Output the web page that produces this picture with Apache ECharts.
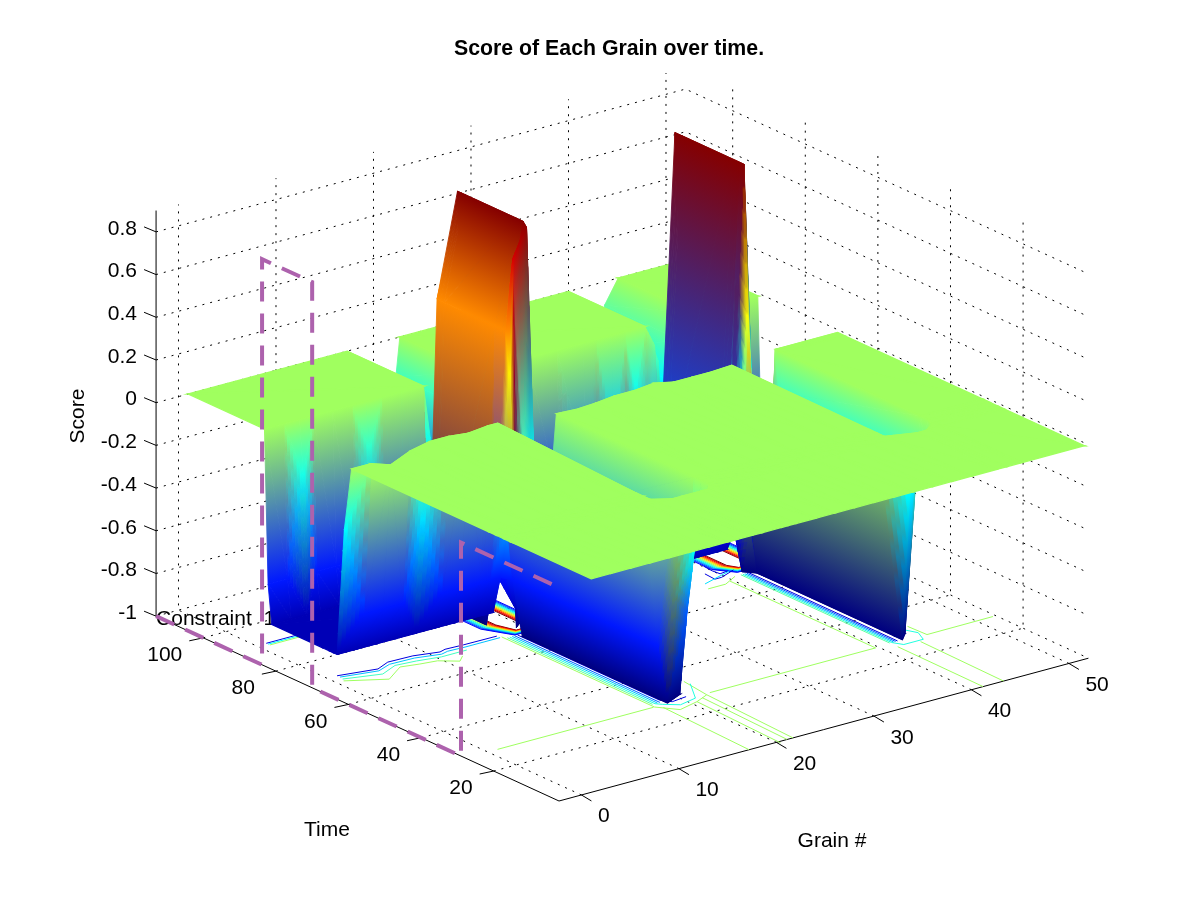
<!DOCTYPE html>
<html><head><meta charset="utf-8">
<style>html,body{margin:0;padding:0;background:#fff}#c{width:1201px;height:900px}</style>
<script src="https://cdn.jsdelivr.net/npm/echarts@6/dist/echarts.min.js"></script>
</head><body><div id="c"></div>
<script>
// ---- axis data
const grainTicks=[0,10,20,30,40,50];
const timeTicks=[20,40,60,80,100];
const scoreTicks=[-1,-0.8,-0.6,-0.4,-0.2,0,0.2,0.4,0.6,0.8];
const scoreLabels=['-1','-0.8','-0.6','-0.4','-0.2','0','0.2','0.4','0.6','0.8'];
const grainRange=[-2.3,52], timeRange=[2,113], scoreRange=[-1,0.9];
const colourRange=[-1,0.88];

// ---- surface height data, time bands from back to front
const backGrains=[1,17.3,18,19,21,21.5,22.3,22.7,40,41.4,42.3,43,43.7,45.1,51.6];
const backTimes=[92,113];
const backRow=[0,0,-.25,-1,-1,-.7,-.18,0,0,-.18,-1,-.3,-.11,0,0];

const wallGrains=[1,3,4.6,6,8,10,11.4,13,15,17.3,17.8,18.7,20.8,21.6,22.2,22.7,25,28,31,33.7,35,36.5,38,38.7,40,41,41.6,43.1,44,44.6,45.1,47,49,51.6];
const wallTimes=[90,91,92];
const wallRow90=[-.9,-.9,-.9,-.9,-.9,-.9,-.9,-.9,-.9,-.9,-1,.39,.87,-.2,-.9,-.9,-.9,-.9,-.9,-.9,-.9,-.9,-.9,-.9,-.9,-.9,-.62,.87,-.3,-.9,-.9,-.9,-.9,-.9];
const wallRow91=[-.72,-.72,-.25,-.72,-.72,-.72,-.2,-.72,-.72,-.72,-1,.39,.87,-.2,-.5,-.7,-.72,-.72,-.72,-.6,-.72,-.4,-.72,-.25,-.5,-.5,-.62,.87,-.3,-.6,-.72,-.72,-.72,-.72];
const wallRow92=[0,0,0,0,0,0,0,0,0,0,-1,.39,.87,-.2,-.3,0,0,0,0,0,0,0,0,0,0,-.1,-.62,.87,-.3,-.2,0,0,0,0];

const ridgeGrains=[1,17,17.8,18.7,20.8,21.6,22.2,23,40,41,41.6,43.1,44,44.6,51.6];
const ridgeTimes=[74,76,90];
const ridgeRow74=[-.9,-.9,-.74,.39,.87,-.2,-.9,-.9,-.9,-.9,-.62,.87,-.3,-.9,-.9];
const ridgeRow76=[-.9,-.9,-1,.39,.87,-.2,-.9,-.9,-.9,-.9,-.62,.87,-.3,-.9,-.9];
const ridgeRow90=[-.9,-.9,-1,.39,.87,-.2,-.9,-.9,-.9,-.9,-.62,.87,-.3,-.9,-.9];

const edgeGrains=[1,3,5,7,9,11,13,15,16,17,17.5,18.7,19.4,20.2,20.8,21.6,22.2,24,26,28,30,32,34,36,38,40,41,41.8,42.6,43.1,44,44.9,45.2,51.6];
const edgeTimes=[68,70,72,73,74];
const edgeRow68=[0,0,-.03,.01,.03,.03,.02,.03,.03,-.48,-.72,-1,-1,-1,-1,-.5,0,-.005,0,.01,.01,.02,0,0,0,.005,-.33,-.77,-1,-1,-1,-.18,0,0];
const edgeRow70=[-.3,-.72,-.72,-.72,-.35,-.72,-.72,-.72,-.72,-.72,-.72,-.9,-.9,-.9,-.9,-.72,-.72,-.72,-.72,-.72,-.72,-.72,-.72,-.72,-.72,-.72,-.8,-1,-.9,-.9,-.9,-.5,0,0];
const edgeRow72=[-.9,-.9,-.9,-.9,-.9,-.9,-.9,-.9,-.9,-.9,-.74,.2,-1,-.2,-.3,-.7,-.9,-.9,-.9,-.9,-.9,-.9,-.9,-.9,-.9,-.9,-.9,-.72,-.3,.17,-.6,-.9,-.9,-.9];
const edgeRow73=[-.9,-.9,-.9,-.9,-.9,-.9,-.9,-.9,-.9,-.9,-.74,.39,.72,.8,.85,-.3,-.9,-.9,-.9,-.9,-.9,-.9,-.9,-.9,-.9,-.9,-.9,-.62,.265,.87,-.3,-.9,-.9,-.9];
const edgeRow74=[-.9,-.9,-.9,-.9,-.9,-.9,-.9,-.9,-.9,-.9,-.74,.39,.55,.7,.87,-.2,-.9,-.9,-.9,-.9,-.9,-.9,-.9,-.9,-.9,-.9,-.9,-.62,.35,.87,-.3,-.9,-.9,-.9];

const frontGrains=[1,3,5,7,9,11,13,15,16,17.5,18.5,20.5,21.2,22,24,26,28,30,32,34,36,38,40,42.6,43.6,44.9,45.2,51.6];
const frontTimes=[2,24,26,28,30,68];
const frontRowFlat=[0,0,0,0,0,0,0,0,0,0,0,0,0,0,0,0,0,0,0,0,0,0,0,0,0,0,0,0];
const frontRow26=[0,0,0,0,0,0,0,0,0,-.36,-.5,-.3,-.1,0,0,0,0,0,0,0,0,0,0,-.3,-.1,0,0,0];
const frontRow28=[0,0,0,0,0,0,0,0,0,-.72,-1,-.6,-.2,0,0,0,0,0,0,0,0,0,0,-1,-.35,-.1,0,0];
const frontRow30=[0,0,0,0,0,0,0,0,0,-.72,-1,-1,-.45,0,0,0,0,0,0,0,0,0,0,-1,-1,-.18,0,0];
const frontRow68=[0,0,-.03,.01,.03,.03,.02,.03,.03,-.72,-1,-1,-.45,0,-.005,0,.01,.01,.02,0,0,0,.005,-1,-1,-.18,0,0];

// vertices whose colour is blended from their neighbours rather than taken from their own height
const surfaceBands=[
 {grains:backGrains,times:backTimes,rows:[backRow,backRow]},
 {grains:wallGrains,times:wallTimes,rows:[wallRow90,wallRow91,wallRow92]},
 {grains:ridgeGrains,times:ridgeTimes,rows:[ridgeRow74,ridgeRow76,ridgeRow90]},
 {grains:edgeGrains,times:edgeTimes,rows:[edgeRow68,edgeRow70,edgeRow72,edgeRow73,edgeRow74],
  blend:[{row:0,grains:[41,41.8],dir:'grain'},{row:3,grains:[42.6],dir:'grain'},{row:4,grains:[19.4,20.2,42.6],dir:'grain'}]},
 {grains:frontGrains,times:frontTimes,rows:[frontRowFlat,frontRowFlat,frontRow26,frontRow28,frontRow30,frontRow68],
  blend:[{row:2,grains:[17.5,18.5],dir:'time'}]}
];

// ---- constraint polyline (at the near grain limit)
const constraintTimes=[113,83.8,83.8,70,70,29,29,2];
const constraintScores=[-1,-1,.9,.9,-1,-1,0,0];

// ---- floor contour lines (grain/time pairs)
const green='#9FFF60';
const contourLines=[
 {color:green,grains:[1,17],times:[27.8,27.8]},
 {color:green,grains:[17.1,17.1,18.4,20.6,22.2,22.6],times:[69.9,27.8,24.2,25.5,27.1,34.5]},
 {color:green,grains:[22.7,39.7,39.7],times:[27.6,27.6,67.7]},
 {color:green,grains:[17.6,17.2],times:[26.7,2]},
 {color:green,grains:[20.6,20.2],times:[25.5,1.4]},
 {color:green,grains:[21.5,21.1],times:[26.5,2]},
 {color:green,grains:[22.2,21.7],times:[27.1,2]},
 {color:green,grains:[44.8,44.9,51.7],times:[32.5,27.4,27.5]},
 {color:green,grains:[41.3,41.2],times:[25.8,2]},
 {color:green,grains:[43.5,43.3],times:[25.4,2]},
 {color:'#60FFA0',grains:[17.35,17.35],times:[69,29]},
 {color:'#20FFE0',grains:[17.6,17.6,18,19.1,21,22.7],times:[69,29,28,26,27,33]},
 {color:'#00C0FF',grains:[17.85,17.85],times:[69,29]},
 {color:'#0060FF',grains:[18.1,18.1],times:[69,29]},
 {color:'#0000E0',grains:[18.4,18.4,19,20.6],times:[69,30,28,28.5]},
 {color:'#60FFA0',grains:[41.3,41.3],times:[69,28]},
 {color:'#20FFE0',grains:[41.5,41.5,42,44,44.6,44],times:[69,28,26,26,29,32]},
 {color:'#00C0FF',grains:[41.7,41.7],times:[69,28]},
 {color:'#0060FF',grains:[41.9,41.9],times:[69,28]},
 {color:'#0000E0',grains:[42.1,42.1],times:[69,28]},
 {color:'#0000E0',grains:[1,4.6,6.2,8.7,11,11.7,13.5,16.9],times:[72,70.4,72,71.8,70.5,71,70.8,70.7]},
 {color:'#00C0FF',grains:[1,4.4,6,8.5,10.8,11.6,13.3,16.9],times:[71.2,69.6,71,70.8,69.5,70,69.8,69.8]},
 {color:'#40FFC0',grains:[.9,4.2,6.2,8.2,10.4,11.8,13],times:[70.2,68,70,69.5,68.5,68.5,68.5]},
 {color:green,grains:[.7,3.9,6.3,8,9.6,11,11.9],times:[69.4,65.4,68.9,68,67.4,65,66.7]},
 {color:'#0000E0',grains:[1,5],times:[91.5,91.5]},
 {color:'#00FFFF',grains:[1,5],times:[91,91]},
 {color:green,grains:[1,5],times:[90.5,90.5]},
 {color:'#00FFFF',grains:[23,27],times:[91.4,91.4]},
 {color:green,grains:[23,27],times:[91,91]},
 {color:'#0000E0',grains:[40.1,40,40.1,41],times:[76,73.4,71.5,71.8]},
 {color:'#0000E0',grains:[39.1,39,39.7,41.5],times:[73,70,70,71.6]},
 {color:'#00E0FF',grains:[37.7,39.5,41.1],times:[69.2,70.5,71.6]},
 {color:green,grains:[37.2,39,40.7],times:[67,67,69]}
];
const ringColours=['#800000','#C00000','#FF0000','#FF6000','#FFA000','#FFE000','#C0FF40','#80FF80','#40FFC0','#00FFFF','#00C0FF','#0080FF','#0040FF','#0000FF'];
const ringSpacing=[0,.12,.24,.36,.48,.6,.72,.84,.96,1.08,1.2,1.32,1.44,1.56];
const ringFootprints=[
 {grains:[18.4,18.4,19,19.8,20.3,20.3],times:[92,75,71,71,74,92]},
 {grains:[41.7,41.7,42.2,43,43.5,43.5],times:[92,74,72,72,74,92]}
];

// ---- view
const view={x0:559,y0:801,gx:9.75,gy:2.63,tx:3.63,ty:1.665,zy:213.5};
function project(g,t,z){
  const a=g-grainRange[0],b=t-timeRange[0];
  return [view.x0+view.gx*a-view.tx*b, view.y0-view.gy*a-view.ty*b-view.zy*(z-scoreRange[0])];
}
function jet(z0){
  const z=Math.abs(z0)<.04?0:z0;
  const f=(z-colourRange[0])/(colourRange[1]-colourRange[0]);
  const c=v=>Math.max(0,Math.min(1,v));
  return [c(Math.min(4*f-1.5,-4*f+4.5)),c(Math.min(4*f-.5,-4*f+3.5)),c(Math.min(4*f+.5,-4*f+2.5))];
}
const css=c=>'rgb('+c.map(v=>Math.round(v*255)).join(',')+')';
const mixc=(p,q,k)=>p.map((v,i)=>v+(q[i]-v)*k);

function bandColours(band){
  const cols=band.rows.map(r=>r.map(jet));
  (band.blend||[]).forEach(b=>b.grains.forEach(g=>{
    const i=band.grains.indexOf(g), j=b.row;
    if(b.dir==='time'){
      const z=band.rows[j][i],z1=band.rows[j-1][i],z2=band.rows[j+1][i];
      cols[j][i]=mixc(jet(z1),jet(z2),(z-z1)/(z2-z1));
    }else{
      let l=i-1,r=i+1;
      while(b.grains.includes(band.grains[l]))l--;
      while(b.grains.includes(band.grains[r]))r++;
      cols[j][i]=mixc(jet(band.rows[j][l]),jet(band.rows[j][r]),(band.grains[i]-band.grains[l])/(band.grains[r]-band.grains[l]));
    }
  }));
  return cols;
}

// ---- triangles from the bands
const triangles=[];
surfaceBands.forEach(band=>{
  const G=band.grains,T=band.times,R=band.rows,C=bandColours(band);
  for(let j=T.length-2;j>=0;j--)for(let i=G.length-2;i>=0;i--){
    const v=(ii,jj)=>[G[ii],T[jj],R[jj][ii],C[jj][ii]];
    const a=v(i,j),b=v(i+1,j),c=v(i+1,j+1),d=v(i,j+1);
    if(Math.abs(a[2]-c[2])<Math.abs(b[2]-d[2])){triangles.push([a,d,c]);triangles.push([a,b,c]);}
    else{triangles.push([b,c,d]);triangles.push([a,b,d]);}
  }
});
function triPaint(pts,zs,cols){
  const zmin=Math.min(...zs),zmax=Math.max(...zs);
  if(zmax-zmin<1e-3||(zmax<.04&&zmin>-.04))return css(cols[0]);
  const x1=pts[1][0]-pts[0][0],y1=pts[1][1]-pts[0][1],x2=pts[2][0]-pts[0][0],y2=pts[2][1]-pts[0][1];
  const det=x1*y2-x2*y1;
  if(Math.abs(det)<.5){return css(cols[0].map((_,k)=>(cols[0][k]+cols[1][k]+cols[2][k])/3));}
  const dz1=zs[1]-zs[0],dz2=zs[2]-zs[0];
  const ga=(dz1*y2-dz2*y1)/det,gb=(x1*dz2-x2*dz1)/det;
  const n=ga*ga+gb*gb;
  const order=[0,1,2].sort((p,q)=>zs[p]-zs[q]);
  const lo=order[0],mid=order[1],hi=order[2];
  const span=zmax-zmin;
  const sx=pts[lo][0],sy=pts[lo][1];
  const ex=sx+ga*span/n,ey=sy+gb*span/n;
  return new echarts.graphic.LinearGradient(sx,sy,ex,ey,[
    {offset:0,color:css(cols[lo])},
    {offset:Math.max(0,Math.min(1,(zs[mid]-zmin)/span)),color:css(cols[mid])},
    {offset:1,color:css(cols[hi])}],true);
}
// colours vary linearly over a triangle; where a single gradient cannot show that, split it
function needsSplit(zs,cols){
  const order=[0,1,2].sort((p,q)=>zs[p]-zs[q]);
  const lo=order[0],mid=order[1],hi=order[2];
  const span=zs[hi]-zs[lo];
  if(span<1e-3)return false;
  const exp=mixc(cols[lo],cols[hi],(zs[mid]-zs[lo])/span);
  return Math.max(...exp.map((v,k)=>Math.abs(v-cols[mid][k])))>.06;
}
const SPLIT=6;
function triShapes(pts,zs,cols){
  const poly=(P,Z,C)=>{const paint=triPaint(P,Z,C);
    const flat=typeof paint==='string';
    return {type:'polygon',silent:true,shape:{points:P},style:{fill:paint,stroke:paint,lineWidth:flat?1.3:.9}};};
  if(!needsSplit(zs,cols))return poly(pts,zs,cols);
  const at=(i,j)=>{const k=SPLIT-i-j,u=i/SPLIT,v=j/SPLIT,w=k/SPLIT;
    return {p:[pts[0][0]*u+pts[1][0]*v+pts[2][0]*w,pts[0][1]*u+pts[1][1]*v+pts[2][1]*w],
      z:zs[0]*u+zs[1]*v+zs[2]*w,
      c:[0,1,2].map(n=>cols[0][n]*u+cols[1][n]*v+cols[2][n]*w)};};
  const ch=[];
  const add=(a,b,c)=>ch.push(poly([a.p,b.p,c.p],[a.z,b.z,c.z],[a.c,b.c,c.c]));
  for(let i=0;i<SPLIT;i++)for(let j=0;j<SPLIT-i;j++){
    add(at(i,j),at(i+1,j),at(i,j+1));
    if(i+j<SPLIT-1)add(at(i+1,j),at(i+1,j+1),at(i,j+1));
  }
  return {type:'group',children:ch};
}

const FONT='"Liberation Sans", Arial, sans-serif';
const FS='21px ';
const txt=(text,x,y)=>({type:'text',silent:true,style:{text,x,y,fill:'#000',font:FS+FONT,align:'center',verticalAlign:'middle'}});
function line(api,pts,stroke,width,dash){
  return {type:'polyline',silent:true,shape:{points:pts.map(p=>api.coord(p))},style:{stroke,lineWidth:width,fill:null,lineDash:dash||null}};
}
const [g0,g1]=grainRange,[t0,t1]=timeRange,[z0,z1]=scoreRange;
const dots=[2,6];

function gridItems(api){
  const out=[];
  scoreTicks.forEach(z=>{out.push(line(api,[project(g0,t1,z),project(g1,t1,z),project(g1,t0,z)],'#000',1,dots));});
  grainTicks.forEach(g=>{
    out.push(line(api,[project(g,t0,z0),project(g,t1,z0),project(g,t1,z1)],'#000',1,dots));
  });
  timeTicks.forEach(t=>{
    out.push(line(api,[project(g0,t,z0),project(g1,t,z0),project(g1,t,z1)],'#000',1,dots));
  });
  out.push(line(api,[project(g0,t1,z1),project(g0,t1,z0),project(g0,t0,z0),project(g1,t0,z0)],'#000',1));
  grainTicks.forEach(g=>{const p=project(g,t0,z0);out.push(line(api,[p,[p[0]+10,p[1]+6]],'#000',1));});
  timeTicks.forEach(t=>{const p=project(g0,t,z0);out.push(line(api,[p,[p[0]-14,p[1]+3]],'#000',1));});
  scoreTicks.forEach(z=>{const p=project(g0,t1,z);out.push(line(api,[p,[p[0]-12,p[1]-5]],'#000',1));});
  return out;
}
function contourItems(api){
  const out=[];
  ringFootprints.forEach(fp=>{
    const gs=[-1,-1,-.5,.5,1,1],ts=[0,0,-1,-1,0,0];
    ringSpacing.forEach((d,k)=>{
      const pts=fp.grains.map((g,i)=>project(g+gs[i]*d,fp.times[i]+ts[i]*d*1.1,z0));
      out.push(line(api,pts,ringColours[k],1));
    });
  });
  contourLines.forEach(c=>{
    out.push(line(api,c.grains.map((g,i)=>project(g,c.times[i],z0)),c.color,1));
  });
  return out;
}

const option={
  animation:false,
  backgroundColor:'#fff',
  title:{text:'Score of Each Grain over time.',left:604,top:34,textAlign:'center',
    textStyle:{fontFamily:'Liberation Sans',fontWeight:'bold',fontSize:21.3,color:'#000'}},
  grid:{left:0,top:0,width:1201,height:900,containLabel:false},
  xAxis:{type:'value',min:0,max:1201,show:false},
  yAxis:{type:'value',min:0,max:900,inverse:true,show:false},
  series:[
   {type:'custom',coordinateSystem:'cartesian2d',z:1,data:[0],silent:true,clip:false,
    renderItem:(p,api)=>({type:'group',children:gridItems(api)})},
   {type:'custom',coordinateSystem:'cartesian2d',z:2,data:[0],silent:true,clip:false,
    renderItem:(p,api)=>({type:'group',children:contourItems(api)})},
   {type:'custom',coordinateSystem:'cartesian2d',z:3,data:[0],silent:true,clip:false,
    renderItem:(p,api)=>{const q=api.coord(project(g0,t1,z0));
      return {type:'text',silent:true,style:{text:'Constraint  1',x:q[0],y:q[1]+3,fill:'#000',font:FS+FONT,align:'left',verticalAlign:'middle'}};}},
   {type:'custom',coordinateSystem:'cartesian2d',z:4,silent:true,clip:false,progressive:0,
    data:triangles.map((_,i)=>i),
    renderItem:(p,api)=>{
      const tri=triangles[p.dataIndex];
      const pts=tri.map(v=>api.coord(project(v[0],v[1],v[2])));
      return triShapes(pts,tri.map(v=>v[2]),tri.map(v=>v[3]));
    }},
   {type:'custom',coordinateSystem:'cartesian2d',z:5,data:[0],silent:true,clip:false,
    renderItem:(p,api)=>line(api,constraintTimes.map((t,i)=>project(g0,t,constraintScores[i])),'#AD62AD',4,[20,12])},
   {type:'custom',coordinateSystem:'cartesian2d',z:6,data:[0],silent:true,clip:false,
    renderItem:(p,api)=>{
      const ch=[];
      scoreTicks.forEach((z,i)=>{const q=api.coord(project(g0,t1,z));
        ch.push({type:'text',silent:true,style:{text:scoreLabels[i],x:137,y:q[1]-3,fill:'#000',font:FS+FONT,align:'right',verticalAlign:'middle'}});});
      grainTicks.forEach(g=>{const q=api.coord(project(g,t0,z0));
        ch.push({type:'text',silent:true,style:{text:String(g),x:q[0]+16.5,y:q[1]+21.7,fill:'#000',font:FS+FONT,align:'left',verticalAlign:'middle'}});});
      timeTicks.forEach(t=>{const q=api.coord(project(g0,t,z0));
        ch.push({type:'text',silent:true,style:{text:String(t),x:q[0]-21,y:q[1]+17.5,fill:'#000',font:FS+FONT,align:'right',verticalAlign:'middle'}});});
      ch.push(txt('Time',327,830));
      ch.push(txt('Grain #',832,841));
      ch.push({type:'text',silent:true,x:78,y:416,rotation:Math.PI/2,style:{text:'Score',x:0,y:0,fill:'#000',font:FS+FONT,align:'center',verticalAlign:'middle'}});
      return {type:'group',children:ch};
    }}
  ]
};
const chart=echarts.init(document.getElementById('c'),null,{renderer:'canvas',width:1201,height:900});
chart.setOption(option);
</script></body></html>
